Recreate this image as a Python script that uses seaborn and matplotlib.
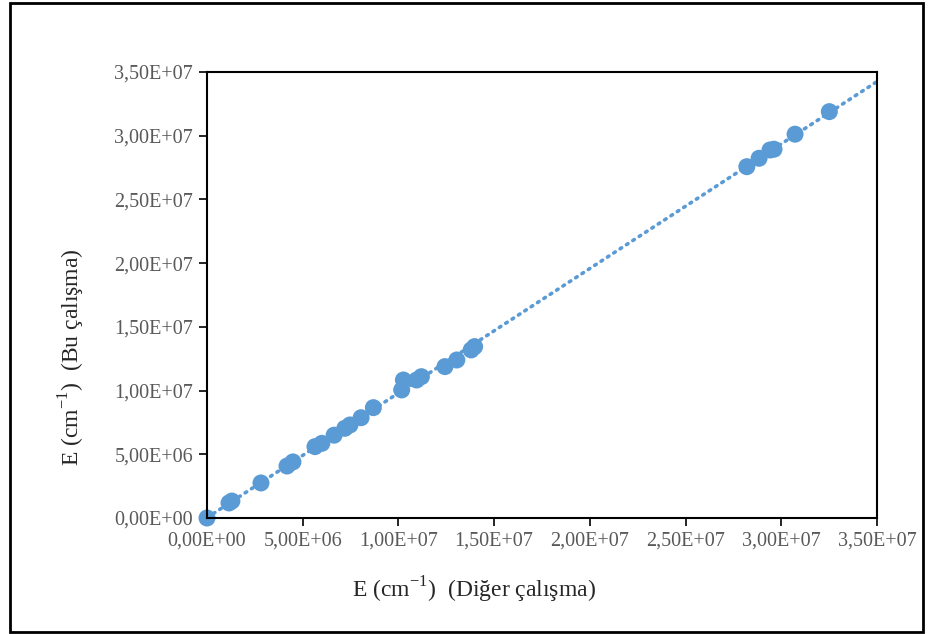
import numpy as np
import pandas as pd
import seaborn as sns
from matplotlib import pyplot as plt
from matplotlib.ticker import FuncFormatter, MultipleLocator
from matplotlib.patches import Rectangle

# values (cm^-1)
diger = [0.0, 1.15e6, 1.30e6, 2.82e6, 4.18e6, 4.49e6, 5.64e6, 6.00e6, 6.64e6,
         7.20e6, 7.47e6, 8.05e6, 8.69e6, 10.17e6, 10.26e6, 10.95e6, 11.20e6,
         12.43e6, 13.05e6, 13.80e6, 13.98e6,
         28.20e6, 28.84e6, 29.41e6, 29.62e6, 30.72e6, 32.51e6]
bu = [0.0, 1.18e6, 1.33e6, 2.75e6, 4.08e6, 4.40e6, 5.60e6, 5.86e6, 6.50e6,
      7.04e6, 7.30e6, 7.87e6, 8.66e6, 10.05e6, 10.83e6, 10.83e6, 11.09e6,
      11.88e6, 12.40e6, 13.19e6, 13.45e6,
      27.57e6, 28.23e6, 28.88e6, 28.94e6, 30.12e6, 31.89e6]

df = pd.DataFrame({"diger": diger, "bu": bu})

sns.set_style("white")
plt.rcParams['font.family'] = ['Liberation Serif', 'DejaVu Serif']
plt.rcParams['mathtext.fontset'] = 'custom'
plt.rcParams['mathtext.rm'] = 'Liberation Serif'

blue = "#5B9BD5"
fig = plt.figure(figsize=(9.29, 6.34), dpi=100)
ax = fig.add_axes([207/929, 1-518/634, 670/929, 446/634])

# linear trend line
k, b = np.polyfit(df.diger, df.bu, 1)
xs = np.array([0, 3.5e7])
ax.plot(xs, k*xs + b, color=blue, lw=2.6, linestyle=(0, (0.5, 1.6)),
        dash_capstyle='round', zorder=1)

sns.scatterplot(data=df, x="diger", y="bu", ax=ax, color=blue, s=150,
                edgecolor="none", zorder=2, clip_on=False)

ax.set_xlim(0, 3.5e7)
ax.set_ylim(0, 3.5e7)
ax.xaxis.set_major_locator(MultipleLocator(5e6))
ax.yaxis.set_major_locator(MultipleLocator(5e6))
fmt = FuncFormatter(lambda v, p: f"{v:.2E}".replace('.', ','))
ax.xaxis.set_major_formatter(fmt)
ax.yaxis.set_major_formatter(fmt)
ax.tick_params(axis='both', direction='out', length=6, width=1.2,
               labelsize=14.5, labelcolor='#595959', color='black', pad=4)
ax.tick_params(axis='x', bottom=True)
ax.tick_params(axis='y', left=True)
for sp in ax.spines.values():
    sp.set_color('black')
    sp.set_linewidth(1.5)

ax.set_xlabel("E (cm$^{\\mathrm{-1}}$)  (Diğer çalışma)", fontsize=17)
ax.set_ylabel("E (cm$^{\\mathrm{-1}}$)  (Bu çalışma)", fontsize=17)
ax.xaxis.set_label_coords((474-207)/670, (518-590)/446, transform=ax.transAxes)
ax.yaxis.set_label_coords((72-207)/670, (518-357)/446, transform=ax.transAxes)
ax.xaxis.label.set_va('center')
ax.yaxis.label.set_va('center')

# outer frame
fig.patches.append(Rectangle((10/929, 2/634), 913/929, 629/634, transform=fig.transFigure,
                             fill=False, edgecolor='black', linewidth=2))

fig.savefig("out.png", dpi=100)
